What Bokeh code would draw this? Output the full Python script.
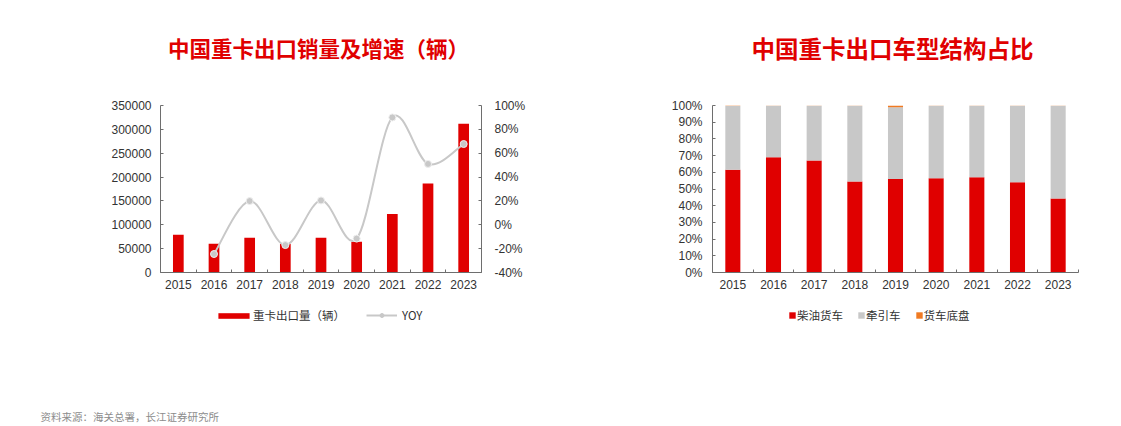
from bokeh.plotting import figure
from bokeh.models import (ColumnDataSource, Range1d, LinearAxis, FixedTicker,
                          BasicTickFormatter, NumeralTickFormatter, Legend, LegendItem,
                          Label, CustomJSTickFormatter)
from bokeh.layouts import row, column
from bokeh.embed import file_html
from bokeh.resources import INLINE

# ---------------- data ----------------
years = [2015, 2016, 2017, 2018, 2019, 2020, 2021, 2022, 2023]
exports = [79000, 60500, 73000, 59500, 73000, 64500, 122500, 186500, 312000]
yoy_years = [2016, 2017, 2018, 2019, 2020, 2021, 2022, 2023]
yoy = [-0.245, 0.199, -0.17, 0.204, -0.116, 0.90, 0.51, 0.677]

diesel = [61.5, 69.0, 67.0, 54.5, 56.0, 56.5, 57.0, 54.0, 44.3]
tractor = [38.2, 30.8, 32.8, 45.4, 43.0, 43.3, 42.9, 45.9, 55.5]
chassis = [0.3, 0.2, 0.2, 0.1, 1.0, 0.2, 0.1, 0.1, 0.2]

left_ticks = [0, 50000, 100000, 150000, 200000, 250000, 300000, 350000]
yoy_ticks = [-0.4, -0.2, 0.0, 0.2, 0.4, 0.6, 0.8, 1.0]
pct_ticks = [0, 10, 20, 30, 40, 50, 60, 70, 80, 90, 100]

RED = "#E00000"
GRAY = "#C8C8C8"
ORANGE = "#F07A22"
AXIS = "#6E6E6E"
TXT = "#333333"
NUM_FONT = "Liberation Sans"
CJK = "Noto Sans CJK SC"
NAN = float("nan")

W = 1121
TOP_H, MID_H, BOT_H = 80, 226, 120


def blank(height):
    f = figure(width=W, height=height, output_backend="svg", toolbar_location=None,
               x_range=Range1d(0, 1), y_range=Range1d(0, 1),
               x_axis_type=None, y_axis_type=None, min_border=0)
    f.outline_line_color = None
    f.grid.visible = False
    return f


def style_axes(p, xaxis):
    xaxis.ticker = FixedTicker(ticks=years, minor_ticks=[y - 0.5 for y in years] + [years[-1] + 0.5])
    xaxis.major_tick_in = 0
    xaxis.major_tick_out = 0
    xaxis.minor_tick_in = 3
    xaxis.minor_tick_out = 0
    xaxis.minor_tick_line_color = AXIS
    xaxis.formatter = BasicTickFormatter(use_scientific=False)
    xaxis.major_label_standoff = 7
    for ax in p.axis:
        ax.axis_line_color = AXIS
        ax.major_tick_line_color = AXIS
        ax.major_label_text_font = NUM_FONT
        ax.major_label_text_font_size = "12px"
        ax.major_label_text_color = TXT


def make_legend(items, loc, gw, gh, spacing, standoff):
    return Legend(items=items, location=loc, orientation="horizontal",
                  glyph_width=gw, glyph_height=gh, label_standoff=standoff, spacing=spacing,
                  padding=0, margin=0, border_line_color=None, background_fill_alpha=0,
                  label_text_font=CJK, label_text_font_size="11.5px", label_text_color=TXT,
                  label_text_baseline="middle")


# ---------------- title strip ----------------
top = blank(TOP_H)
top.add_layout(Label(x=318, y=TOP_H - 47, x_units="screen", y_units="screen",
                     text="中国重卡出口销量及增速（辆）", text_align="center", text_baseline="middle",
                     text_font=CJK, text_font_style="bold", text_font_size="21.5px", text_color=RED))
top.add_layout(Label(x=892, y=TOP_H - 47, x_units="screen", y_units="screen",
                     text="中国重卡出口车型结构占比", text_align="center", text_baseline="middle",
                     text_font=CJK, text_font_style="bold", text_font_size="23.5px", text_color=RED))

# ---------------- left chart ----------------
p1 = figure(width=560, height=MID_H, output_backend="svg", toolbar_location=None,
            x_range=Range1d(2014.5, 2023.5), y_range=Range1d(0, 350000),
            min_border_left=160, min_border_right=79, min_border_top=24, min_border_bottom=34)
p1.extra_y_ranges = {"yoy": Range1d(-0.4, 1.0)}
p1.outline_line_color = None
p1.grid.visible = False

src1 = ColumnDataSource(dict(x=years, v=exports))
p1.vbar(x="x", top="v", width=0.3, source=src1, fill_color=RED, line_color=None)

# smoothed YOY line: cubic bezier segments through the points (Catmull-Rom control points)
n = len(yoy_years)
x0, y0, x1, y1, cx0, cy0, cx1, cy1 = [], [], [], [], [], [], [], []
for i in range(n - 1):
    pxp, pyp = (yoy_years[i - 1], yoy[i - 1]) if i > 0 else (yoy_years[i], yoy[i])
    pxn, pyn = (yoy_years[i + 2], yoy[i + 2]) if i + 2 < n else (yoy_years[i + 1], yoy[i + 1])
    x0.append(yoy_years[i]); y0.append(yoy[i])
    x1.append(yoy_years[i + 1]); y1.append(yoy[i + 1])
    cx0.append(yoy_years[i] + (yoy_years[i + 1] - pxp) / 6)
    cy0.append(yoy[i] + (yoy[i + 1] - pyp) / 6)
    cx1.append(yoy_years[i + 1] - (pxn - yoy_years[i]) / 6)
    cy1.append(yoy[i + 1] - (pyn - yoy[i]) / 6)
bsrc = ColumnDataSource(dict(x0=x0, y0=y0, x1=x1, y1=y1, cx0=cx0, cy0=cy0, cx1=cx1, cy1=cy1))
p1.bezier(x0="x0", y0="y0", x1="x1", y1="y1", cx0="cx0", cy0="cy0", cx1="cx1", cy1="cy1",
          source=bsrc, line_color=GRAY, line_width=2, y_range_name="yoy")
p1.scatter(x=yoy_years, y=yoy, size=7, fill_color=GRAY, line_color="#EEEEEE",
           line_width=1, y_range_name="yoy")

p1.yaxis.ticker = FixedTicker(ticks=left_ticks)
p1.yaxis.formatter = BasicTickFormatter(use_scientific=False)
p1.yaxis.major_tick_in = 3
p1.yaxis.major_tick_out = 0
p1.yaxis.minor_tick_line_color = None
p1.yaxis.major_label_standoff = 9

rax = LinearAxis(y_range_name="yoy", ticker=FixedTicker(ticks=yoy_ticks),
                 formatter=NumeralTickFormatter(format="0%"))
rax.major_tick_in = 3
rax.major_tick_out = 0
rax.minor_tick_line_color = None
rax.major_label_standoff = 13
p1.add_layout(rax, "right")
style_axes(p1, p1.xaxis[0])

# ---------------- right chart ----------------
p2 = figure(width=W - 560, height=MID_H, output_backend="svg", toolbar_location=None,
            x_range=Range1d(2014.5, 2023.5), y_range=Range1d(0, 100),
            min_border_left=152, min_border_right=43, min_border_top=25, min_border_bottom=34)
p2.outline_line_color = None
p2.grid.visible = False

src2 = ColumnDataSource(dict(x=years, diesel=diesel, tractor=tractor, chassis=chassis))
p2.vbar_stack(["diesel", "tractor", "chassis"], x="x", width=0.37, source=src2,
              fill_color=[RED, GRAY, ORANGE], line_color=None)

p2.yaxis.ticker = FixedTicker(ticks=pct_ticks)
p2.yaxis.formatter = CustomJSTickFormatter(code="return tick.toFixed(0) + '%';")
p2.yaxis.major_tick_in = 3
p2.yaxis.major_tick_out = 0
p2.yaxis.minor_tick_line_color = None
p2.yaxis.major_label_standoff = 10
style_axes(p2, p2.xaxis[0])

# ---------------- legend + source strip ----------------
bot = blank(BOT_H)
# legend swatch carriers (a single NaN row each, so nothing is drawn in the strip itself)
sw_bar = bot.vbar(x=[NAN], top=[NAN], width=0.3, fill_color=RED, line_color=None)
sw_line = bot.line(x=[NAN], y=[NAN], line_color=GRAY, line_width=2)
sw_dot = bot.scatter(x=[NAN], y=[NAN], size=6, fill_color=GRAY, line_color=GRAY)
sw_d = bot.vbar(x=[NAN], top=[NAN], width=0.3, fill_color=RED, line_color=None)
sw_t = bot.vbar(x=[NAN], top=[NAN], width=0.3, fill_color=GRAY, line_color=None)
sw_c = bot.vbar(x=[NAN], top=[NAN], width=0.3, fill_color=ORANGE, line_color=None)

LEG_Y = BOT_H - 10 - 7
bot.add_layout(make_legend([LegendItem(label="重卡出口量（辆）", renderers=[sw_bar])],
                           (214, LEG_Y), 39, 7, 0, 0))
bot.add_layout(make_legend([LegendItem(label="YOY", renderers=[sw_line, sw_dot])],
                           (366, LEG_Y), 31, 10, 0, 5))
bot.add_layout(make_legend([LegendItem(label="柴油货车", renderers=[sw_d]),
                            LegendItem(label="牵引车", renderers=[sw_t]),
                            LegendItem(label="货车底盘", renderers=[sw_c])],
                           (788, LEG_Y), 8, 8, 14, 1))
bot.add_layout(Label(x=40, y=10, x_units="screen", y_units="screen",
                     text="资料来源：海关总署，长江证券研究所", text_align="left", text_baseline="middle",
                     text_font=CJK, text_font_size="10.5px", text_color="#8C8C8C"))

layout = column(top, row(p1, p2), bot)
open("out.html", "w").write(file_html(layout, INLINE))
